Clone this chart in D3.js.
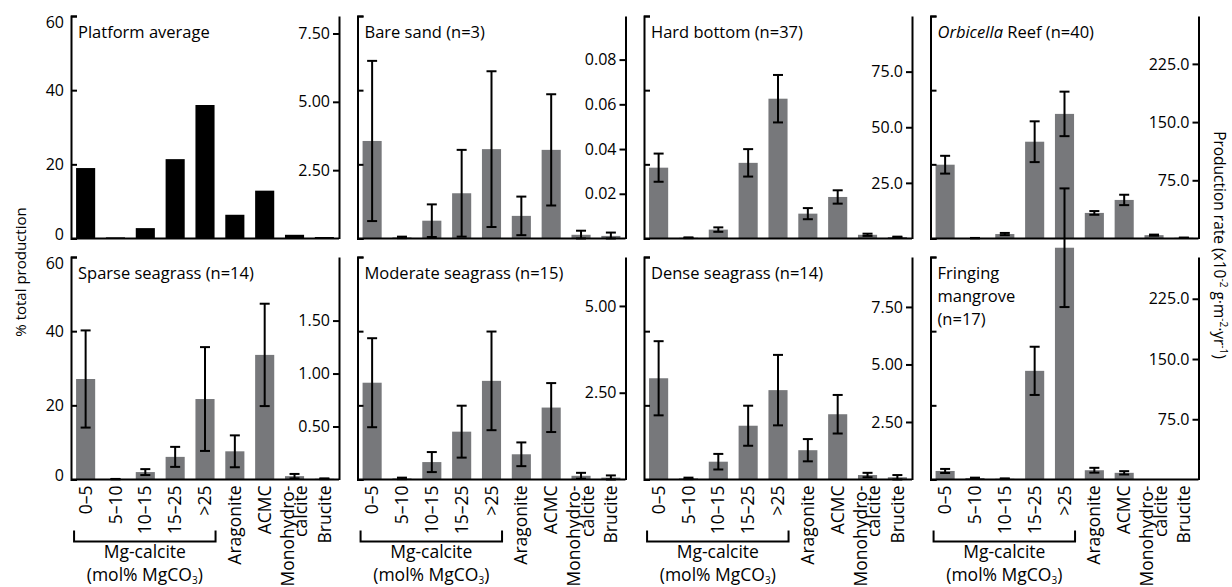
<!DOCTYPE html>
<html>
<head>
<meta charset="utf-8">
<script src="https://cdn.jsdelivr.net/npm/d3@7"></script>
<style>
  body { margin: 0; background: #fff; }
  text { font-family: "Open Sans", sans-serif; fill: #000; }
</style>
</head>
<body>
<svg id="chart" width="1232" height="587"></svg>
<script>
const CATEGORIES = ["0–5", "5–10", "10–15", "15–25", ">25", "Aragonite", "ACMC", "Monohydro-|calcite", "Brucite"];

// % total production (error = half the whisker span)
const platformAverage = [19.0, 0.3, 2.8, 21.4, 36.0, 6.4, 12.9, 1.0, 0.4];
const bareSand = [26.3, 0.3, 4.8, 12.2, 24.1, 6.1, 23.9, 1.0, 0.7];
const bareSandErr = [21.6, 0.2, 4.4, 11.7, 21.0, 5.2, 15.0, 1.1, 0.9];
const hardBottom = [19.1, 0.2, 2.4, 20.4, 37.7, 6.7, 11.2, 1.0, 0.4];
const hardBottomErr = [3.8, 0.1, 0.6, 3.7, 6.4, 1.5, 1.8, 0.3, 0.1];
const orbicella = [19.9, 0.1, 1.2, 26.1, 33.6, 6.9, 10.4, 0.9, 0.2];
const orbicellaErr = [2.4, 0.05, 0.3, 5.5, 6.0, 0.5, 1.4, 0.15, 0.05];
const sparseSeagrass = [27.1, 0.1, 2.0, 6.1, 21.7, 7.6, 33.6, 0.9, 0.2];
const sparseSeagrassErr = [13.1, 0.05, 0.8, 2.7, 14.0, 4.3, 13.8, 0.6, 0.1];
const moderateSeagrass = [26.1, 0.3, 4.7, 12.9, 26.6, 6.8, 19.4, 1.0, 0.5];
const moderateSeagrassErr = [12.0, 0.2, 2.7, 7.0, 13.3, 3.2, 6.6, 0.8, 0.6];
const denseSeagrass = [27.3, 0.3, 4.8, 14.5, 24.1, 7.9, 17.6, 1.2, 0.6];
const denseSeagrassErr = [10.0, 0.2, 2.1, 5.4, 9.5, 3.0, 5.2, 0.6, 0.6];
const fringingMangrove = [2.3, 0.4, 0.2, 29.3, 62.5, 2.5, 1.8, 0, 0];
const fringingMangroveErr = [0.55, 0.1, 0.1, 6.5, 16.0, 0.65, 0.45, 0, 0];

const PCT_TICKS = [0, 20, 40, 60];
// production rate that lines up with 60 % on each panel, and its labelled ticks
const rateMax = [8.14, 0.0995, 100, 286.7, 2.1, 6.41, 9.67, 277];
const rateTicks = [[2.5, 5, 7.5], [0.02, 0.04, 0.06, 0.08], [25, 50, 75], [75, 150, 225],
                   [0.5, 1, 1.5], [2.5, 5], [2.5, 5, 7.5], [75, 150, 225]];
const rateFormat = [".2f", ".2f", ".1f", ".1f", ".2f", ".2f", ".2f", ".1f"];

const panels = [
  { title: ["Platform average"], values: platformAverage, errors: null },
  { title: ["Bare sand (n=3)"], values: bareSand, errors: bareSandErr },
  { title: ["Hard bottom (n=37)"], values: hardBottom, errors: hardBottomErr },
  { title: ["|Orbicella| Reef (n=40)"], values: orbicella, errors: orbicellaErr },
  { title: ["Sparse seagrass (n=14)"], values: sparseSeagrass, errors: sparseSeagrassErr },
  { title: ["Moderate seagrass (n=15)"], values: moderateSeagrass, errors: moderateSeagrassErr },
  { title: ["Dense seagrass (n=14)"], values: denseSeagrass, errors: denseSeagrassErr },
  { title: ["Fringing", "mangrove", "(n=17)"], values: fringingMangrove, errors: fringingMangroveErr }
];

const W = 268, H = 222.5;
const COL_X = 71, COL_STEP = 286.5;
const ROW_Y = [16, 257];
const LABEL_SIZE = 17.5;

let svg = d3.select("#chart");

let x = d3.scaleBand().domain(CATEGORIES).range([0, W]).paddingInner(0.36).paddingOuter(0.17);
let y = d3.scaleLinear().domain([0, 60]).range([H, 0]);

panels.forEach((p, i) => {
  let col = i % 4, row = Math.floor(i / 4);
  let g = svg.append("g").attr("transform", `translate(${COL_X + col * COL_STEP},${ROW_Y[row]})`);

  // bars
  g.selectAll("rect.bar").data(p.values).join("rect")
    .attr("class", "bar")
    .attr("x", (d, k) => x(CATEGORIES[k]))
    .attr("width", x.bandwidth())
    .attr("y", d => y(d))
    .attr("height", d => H - y(d))
    .attr("fill", i === 0 ? "#000" : "#77787b");

  // error bars
  if (p.errors) {
    let eb = g.selectAll("g.err").data(p.values.map((v, k) => ({ v, e: p.errors[k], c: CATEGORIES[k] })).filter(d => d.v > 0))
      .join("g").attr("class", "err")
      .attr("transform", d => `translate(${x(d.c) + x.bandwidth() / 2},0)`)
      .attr("stroke", "#000").attr("stroke-width", 2);
    eb.append("line").attr("y1", d => y(Math.max(0, d.v - d.e))).attr("y2", d => y(d.v + d.e));
    eb.append("line").attr("x1", -5).attr("x2", 5).attr("y1", d => y(d.v + d.e)).attr("y2", d => y(d.v + d.e));
    eb.append("line").attr("x1", -5).attr("x2", 5)
      .attr("y1", d => y(Math.max(0, d.v - d.e))).attr("y2", d => y(Math.max(0, d.v - d.e)));
  }

  // left % axis, ticks pointing inwards
  let leftAxis = g.append("g").call(d3.axisLeft(y).tickValues(PCT_TICKS)
    .tickSizeInner(-6).tickSizeOuter(-6).tickPadding(7));
  if (col === 0) {
    leftAxis.selectAll("text")
      .attr("dy", d => d === 60 ? "0.7em" : d === 0 ? "0.05em" : "0.32em");
  } else {
    leftAxis.selectAll("text").remove();
  }

  // right production rate axis
  let r = d3.scaleLinear().domain([0, rateMax[i]]).range([H, 0]);
  g.append("g").attr("transform", `translate(${W},0)`)
    .call(d3.axisLeft(r).tickValues(rateTicks[i]).tickFormat(d3.format(rateFormat[i]))
      .tickSizeInner(6).tickSizeOuter(0).tickPadding(3));

  // baseline
  g.append("line").attr("x1", 0).attr("x2", W).attr("y1", H).attr("y2", H)
    .attr("stroke", "#000").attr("stroke-width", 2);

  g.selectAll(".domain, .tick line").attr("stroke", "#000").attr("stroke-width", 2);
  g.selectAll(".tick text").attr("font-size", 16).attr("font-family", '"Open Sans", sans-serif').attr("fill", "#000");

  // panel title
  let t = g.append("text").attr("x", 7).attr("y", 22).attr("font-size", 16.5);
  p.title.forEach((line, li) => {
    let parts = line.split("|");
    parts.forEach((part, pi) => {
      if (!part) return;
      let ts = t.append("tspan").text(part);
      if (pi === 0) ts.attr("x", 7).attr("dy", li === 0 ? 0 : 23);
      if (pi % 2 === 1) ts.attr("font-style", "italic");
    });
  });

  // category labels and Mg-calcite bracket on the lower row
  if (row === 1) {
    let lab = g.selectAll("text.cat").data(CATEGORIES).join("text")
      .attr("class", "cat")
      .attr("font-size", LABEL_SIZE)
      .attr("text-anchor", "end")
      .attr("transform", d => `translate(${x(d) + x.bandwidth() / 2},${H + 6}) rotate(-90)`);
    lab.each(function (d) {
      let lines = d.split("|");
      let sel = d3.select(this);
      lines.forEach((ln, li) => {
        let off = (li - (lines.length - 1) / 2) * 13.5;
        sel.append("tspan").attr("x", 0).attr("y", off).attr("dy", "0.35em").text(ln);
      });
    });

    let bx0 = x(CATEGORIES[0]) - 2, bx1 = x(CATEGORIES[4]) + x.bandwidth() + 1;
    g.append("path")
      .attr("d", `M${bx0},${H + 51}V${H + 62}H${bx1}V${H + 51}`)
      .attr("fill", "none").attr("stroke", "#000").attr("stroke-width", 2);
    g.append("text").attr("x", (bx0 + bx1) / 2).attr("y", H + 78)
      .attr("text-anchor", "middle").attr("font-size", LABEL_SIZE).text("Mg-calcite");
    let mol = g.append("text").attr("x", (bx0 + bx1) / 2).attr("y", H + 101)
      .attr("text-anchor", "middle").attr("font-size", LABEL_SIZE);
    mol.append("tspan").text("(mol% MgCO");
    mol.append("tspan").attr("font-size", 10).attr("dy", 3).text("3");
    mol.append("tspan").attr("dy", -3).text(")");
  }
});

// axis titles
svg.append("text")
  .attr("transform", "translate(21,272) rotate(-90)")
  .attr("text-anchor", "middle").attr("dy", "0.35em").attr("font-size", 15)
  .text("% total production");

let rt = svg.append("text")
  .attr("transform", "translate(1219,245) rotate(90)")
  .attr("text-anchor", "middle").attr("dy", "0.35em").attr("font-size", 15.5);
rt.append("tspan").text("Production rate (x10");
rt.append("tspan").attr("font-size", 10).attr("dy", -6).text("-2");
rt.append("tspan").attr("dy", 6).text(" g·m");
rt.append("tspan").attr("font-size", 10).attr("dy", -6).text("-2");
rt.append("tspan").attr("dy", 6).text("·yr");
rt.append("tspan").attr("font-size", 10).attr("dy", -6).text("-1");
rt.append("tspan").attr("dy", 6).text(")");
</script>
</body>
</html>
